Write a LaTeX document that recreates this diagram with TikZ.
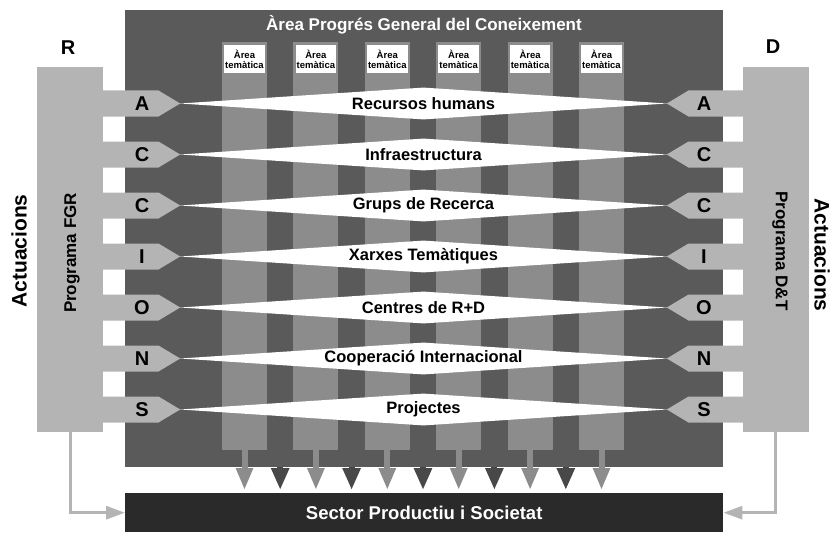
\documentclass[tikz,border=0pt]{standalone}
\usepackage{fontspec}
\setmainfont{Liberation Sans}
\usetikzlibrary{positioning,shapes.geometric,shapes.symbols,arrows.meta}
\definecolor{areagray}{RGB}{90,90,90}
\definecolor{colgray}{RGB}{140,140,140}
\definecolor{tabgray}{RGB}{180,180,180}
\definecolor{bargray}{RGB}{42,42,42}
\definecolor{darkarrowgray}{RGB}{72,72,72}

\begin{document}
\begin{tikzpicture}[x=1pt,y=-1pt,
	area/.style={fill=areagray, inner sep=0, anchor=north west},
	column/.style={fill=colgray, minimum width=45pt, minimum height=408pt, inner sep=0},
	tema/.style={fill=white, font=\fontsize{9.5}{10}\selectfont\bfseries, align=center, inner sep=1pt, minimum width=40pt, minimum height=28pt},
	banner/.style={diamond, fill=white, minimum width=487pt, minimum height=32pt, inner sep=0},
	bannertext/.style={font=\fontsize{16.5}{18}\selectfont\bfseries},
	tableft/.style={signal, signal to=east, signal pointer angle=62, fill=tabgray, minimum width=82pt, minimum height=26pt, inner sep=0, anchor=west},
	tabright/.style={signal, signal to=west, signal pointer angle=62, fill=tabgray, minimum width=81pt, minimum height=26pt, inner sep=0, anchor=east},
	letter/.style={font=\fontsize{20}{22}\selectfont\bfseries, inner sep=0},
	progbox/.style={fill=tabgray, minimum width=66pt, minimum height=365pt, inner sep=0},
	progtext/.style={font=\fontsize{17}{19}\selectfont\bfseries},
	sidetext/.style={font=\fontsize{21}{24}\selectfont\bfseries},
	colarrow/.style={draw=colgray, line width=6pt, -{Triangle[width=16pt,length=22pt]}, shorten >=3pt},
	darkarrow/.style={draw=darkarrowgray, line width=6pt, -{Triangle[width=17pt,length=22pt]}, shorten >=3pt},
	retarrow/.style={draw=tabgray, line width=3pt, -{Triangle[width=13pt,length=19pt]}}
	]
	\useasboundingbox (0,0) rectangle (834,532);

	\node[area, minimum width=598pt, minimum height=457pt] (prog) at (125,10) {};
	\node[font=\fontsize{17}{19}\selectfont\bfseries, text=white] (titol) at (424,25) {Àrea Progrés General del Coneixement};

	\node[column, anchor=north] (col1) at (244.5,42) {};
	\node[column] (col2) [right=26pt of col1] {};
	\node[column] (col3) [right=26pt of col2] {};
	\node[column] (col4) [right=26pt of col3] {};
	\node[column] (col5) [right=26pt of col4] {};
	\node[column] (col6) [right=26pt of col5] {};

	\node[tema] (tm1) [below=3pt of col1.north] {Àrea\\temàtica};
	\node[tema] (tm2) [below=3pt of col2.north] {Àrea\\temàtica};
	\node[tema] (tm3) [below=3pt of col3.north] {Àrea\\temàtica};
	\node[tema] (tm4) [below=3pt of col4.north] {Àrea\\temàtica};
	\node[tema] (tm5) [below=3pt of col5.north] {Àrea\\temàtica};
	\node[tema] (tm6) [below=3pt of col6.north] {Àrea\\temàtica};

	\node[banner] (b1) at (423.5,103.5) {};
	\node[banner] (b2) at (423.5,154.5) {};
	\node[banner] (b3) at (423.5,205.5) {};
	\node[banner] (b4) at (423.5,256.5) {};
	\node[banner] (b5) at (423.5,307.5) {};
	\node[banner] (b6) at (423.5,358.5) {};
	\node[banner] (b7) at (423.5,409.5) {};

	\node[bannertext] (recursos) at (b1) {Recursos humans};
	\node[bannertext] (infra) at (b2) {Infraestructura};
	\node[bannertext] (grups) at (b3) {Grups de Recerca};
	\node[bannertext] (xarxes) at (b4) {Xarxes Temàtiques};
	\node[bannertext] (centres) at (b5) {Centres de R+D};
	\node[bannertext] (coop) at (b6) {Cooperació Internacional};
	\node[bannertext] (projectes) at (b7) {Projectes};

	\node[tableft] (tl1) at (98,103.5) {};
	\node[tableft] (tl2) at (98,154.5) {};
	\node[tableft] (tl3) at (98,205.5) {};
	\node[tableft] (tl4) at (98,256.5) {};
	\node[tableft] (tl5) at (98,307.5) {};
	\node[tableft] (tl6) at (98,358.5) {};
	\node[tableft] (tl7) at (98,409.5) {};

	\node[tabright] (tr1) at (748,103.5) {};
	\node[tabright] (tr2) at (748,154.5) {};
	\node[tabright] (tr3) at (748,205.5) {};
	\node[tabright] (tr4) at (748,256.5) {};
	\node[tabright] (tr5) at (748,307.5) {};
	\node[tabright] (tr6) at (748,358.5) {};
	\node[tabright] (tr7) at (748,409.5) {};

	\node[progbox] (fgr) at (70,249.5) {};
	\node[progbox] (dt) at (775.5,249.5) {};
	\node[progtext, rotate=90] (fgrtext) at (72,253) {Programa FGR};
	\node[progtext, rotate=-90] (dttext) at (780,251) {Programa D\&T};

	\node[letter] (lr) at (68,48) {R};
	\node[letter] (ld) at (773,47) {D};
	\node[sidetext, rotate=90] (actl) at (19,251) {Actuacions};
	\node[sidetext, rotate=-90] (actr) at (822,255) {Actuacions};

	\node[letter] (la1) at (142,103.5) {A};
	\node[letter] (la2) at (142,154.5) {C};
	\node[letter] (la3) at (142,205.5) {C};
	\node[letter] (la4) at (142,256.5) {I};
	\node[letter] (la5) at (142,307.5) {O};
	\node[letter] (la6) at (142,358.5) {N};
	\node[letter] (la7) at (142,409.5) {S};

	\node[letter] (ra1) at (704,103.5) {A};
	\node[letter] (ra2) at (704,154.5) {C};
	\node[letter] (ra3) at (704,205.5) {C};
	\node[letter] (ra4) at (704,256.5) {I};
	\node[letter] (ra5) at (704,307.5) {O};
	\node[letter] (ra6) at (704,358.5) {N};
	\node[letter] (ra7) at (704,409.5) {S};

	\node[fill=bargray, minimum width=598pt, minimum height=39pt, inner sep=0, anchor=north west, text=white, font=\fontsize{18.5}{20}\selectfont\bfseries] (sector) at (125,493) {Sector Productiu i Societat};

	\path (col1.south) -- (col2.south) coordinate[pos=.5] (m1);
	\path (col2.south) -- (col3.south) coordinate[pos=.5] (m2);
	\path (col3.south) -- (col4.south) coordinate[pos=.5] (m3);
	\path (col4.south) -- (col5.south) coordinate[pos=.5] (m4);
	\path (col5.south) -- (col6.south) coordinate[pos=.5] (m5);

	\draw[colarrow] (col1.south) -- (col1.south |- sector.north);
	\draw[colarrow] (col2.south) -- (col2.south |- sector.north);
	\draw[colarrow] (col3.south) -- (col3.south |- sector.north);
	\draw[colarrow] (col4.south) -- (col4.south |- sector.north);
	\draw[colarrow] (col5.south) -- (col5.south |- sector.north);
	\draw[colarrow] (col6.south) -- (col6.south |- sector.north);

	\draw[darkarrow] (m1 |- prog.south) -- (m1 |- sector.north);
	\draw[darkarrow] (m2 |- prog.south) -- (m2 |- sector.north);
	\draw[darkarrow] (m3 |- prog.south) -- (m3 |- sector.north);
	\draw[darkarrow] (m4 |- prog.south) -- (m4 |- sector.north);
	\draw[darkarrow] (m5 |- prog.south) -- (m5 |- sector.north);

	\draw[retarrow] (fgr.south) |- (sector.west);
	\draw[retarrow] (dt.south) |- (sector.east);

\end{tikzpicture}
\end{document}
